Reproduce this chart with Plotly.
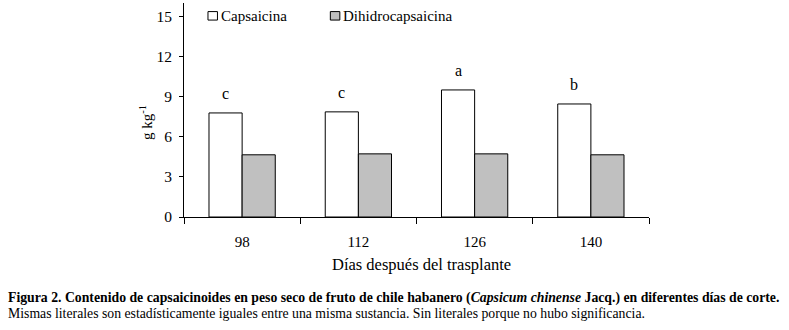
import plotly.graph_objects as go

dias = ["98", "112", "126", "140"]
capsaicina = [7.78, 7.86, 9.50, 8.45]
dihidrocapsaicina = [4.65, 4.72, 4.72, 4.65]
letras_capsaicina = ["c", "c", "a", "b"]
y_ticks = [0, 3, 6, 9, 12, 15]

FONT = "Liberation Serif"
W, H = 789, 330
ML, MR, MT, MB = 184, 139.5, 2.9, 112.7
PW, PH = W - ML - MR, H - MT - MB
BARGAP = 0.43
cat_px = PW / len(dias)


def px_x(px):
    return (px - ML) / PW


def px_y(py):
    return (H - MB - py) / PH


fig = go.Figure()
fig.add_trace(go.Bar(x=dias, y=capsaicina, name="Capsaicina",
                     marker=dict(color="white", line=dict(color="black", width=1))))
fig.add_trace(go.Bar(x=dias, y=dihidrocapsaicina, name="Dihidrocapsaicina",
                     marker=dict(color="#c0c0c0", line=dict(color="black", width=1))))

for i, (v, l) in enumerate(zip(capsaicina, letras_capsaicina)):
    fig.add_annotation(x=i, y=v, text=l, showarrow=False, yanchor="bottom",
                       xshift=-(1 - BARGAP) / 4 * cat_px, yshift=9,
                       font=dict(family=FONT, size=16, color="black"))

# manual legend
leg = [("Capsaicina", "white", 208.0, 219.0), ("Dihidrocapsaicina", "#c0c0c0", 330.5, 341.5)]
for name, col, bx, tx in leg:
    fig.add_shape(type="rect", xref="paper", yref="paper",
                  x0=px_x(bx), x1=px_x(bx + 9.5), y0=px_y(20), y1=px_y(11.5),
                  fillcolor=col, line=dict(color="black", width=1))
    fig.add_annotation(xref="paper", yref="paper", x=px_x(tx), y=px_y(15.5), text=name,
                       showarrow=False, xanchor="left", yanchor="middle",
                       font=dict(family=FONT, size=15, color="black"))

fig.add_annotation(xref="paper", yref="paper", x=px_x(146), y=px_y(123),
                   xanchor="center", yanchor="middle",
                   text="g kg<sup>-1</sup>", textangle=-90, showarrow=False,
                   font=dict(family=FONT, size=15, color="black"))

fig.add_annotation(xref="paper", yref="paper", x=px_x(422), y=px_y(265),
                   xanchor="center", yanchor="middle",
                   text="Días después del trasplante", showarrow=False,
                   font=dict(family=FONT, size=16.5, color="black"))

fig.add_annotation(xref="paper", yref="paper", x=px_x(6), y=px_y(298.5),
                   xanchor="left", yanchor="middle",
                   text="<b>Figura 2. Contenido de capsaicinoides en peso seco de fruto de chile habanero (</b><b><i>Capsicum chinense</i></b><b> Jacq.) en diferentes días de corte.</b>",
                   showarrow=False, font=dict(family=FONT, size=13.75, color="black"))
fig.add_annotation(xref="paper", yref="paper", x=px_x(6), y=px_y(314),
                   xanchor="left", yanchor="middle",
                   text="Mismas literales son estadísticamente iguales entre una misma sustancia. Sin literales porque no hubo significancia.",
                   showarrow=False, font=dict(family=FONT, size=13.75, color="black"))

fig.update_layout(
    width=W, height=H, margin=dict(l=ML, r=MR, t=MT, b=MB, autoexpand=False),
    paper_bgcolor="white", plot_bgcolor="white",
    barmode="group", bargap=BARGAP, bargroupgap=0, showlegend=False,
    font=dict(family=FONT, size=15, color="black"),
    xaxis=dict(type="category", range=[-0.5, 3.5], showline=True, linecolor="black",
               linewidth=1, ticks="outside", tickson="boundaries", ticklen=6,
               tickcolor="black", showgrid=False, tickfont=dict(size=15),
               tickangle=0, automargin=False, ticklabelstandoff=11),
    yaxis=dict(range=[0, 16], tickvals=y_ticks, showline=True, linecolor="black",
               linewidth=1, ticks="outside", ticklen=4, tickcolor="black",
               showgrid=False, zeroline=False, tickfont=dict(size=15.5),
               automargin=False, ticklabelstandoff=4),
)

fig.write_html("out.html", config={"displayModeBar": False},
               post_script="document.body.style.margin='0';document.body.style.padding='0';")
